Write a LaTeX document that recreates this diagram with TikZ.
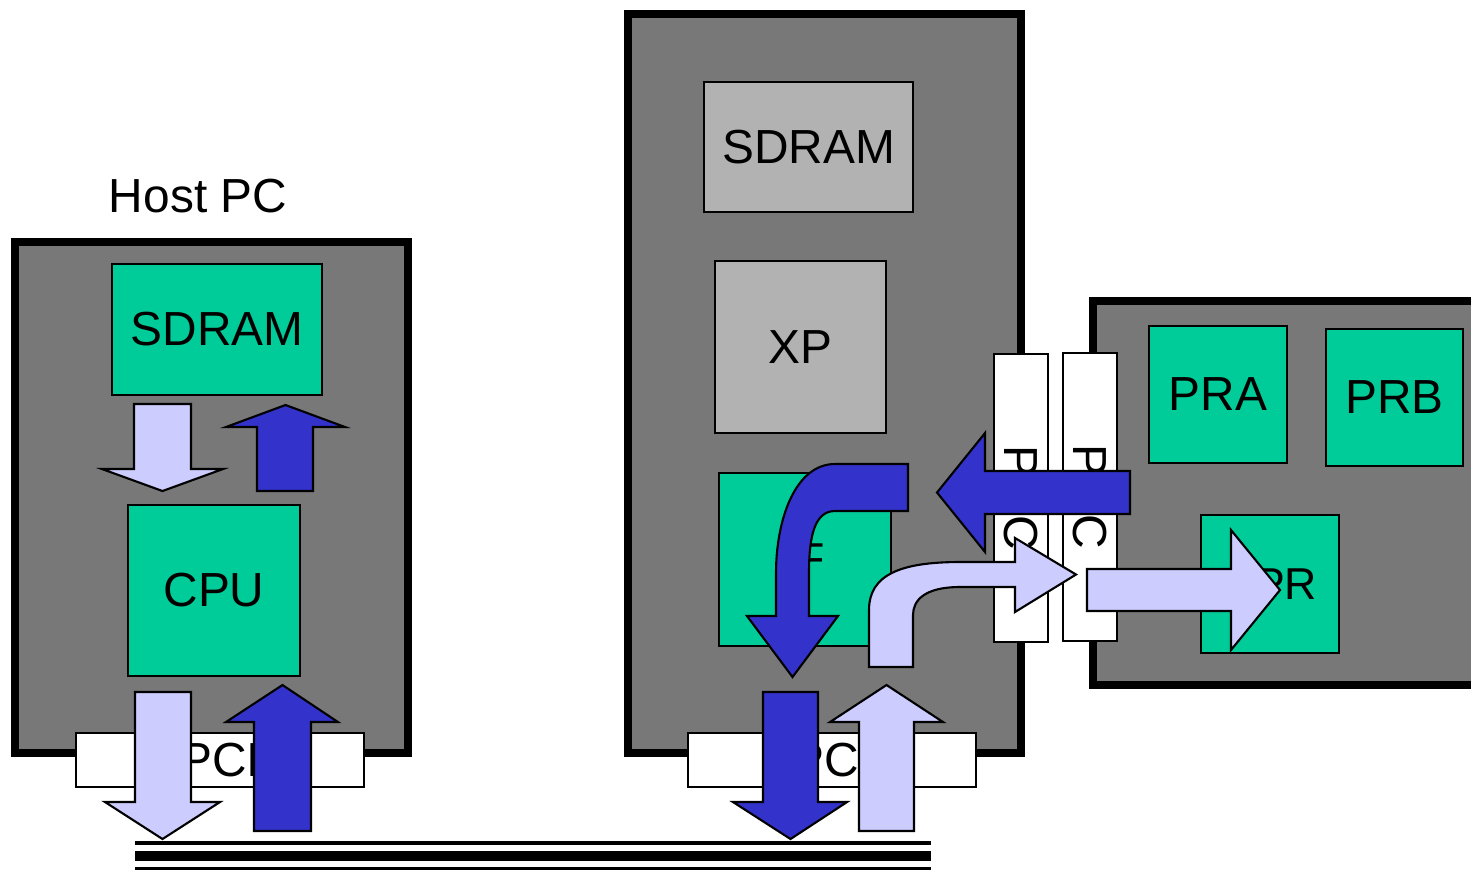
\documentclass[tikz,border=0pt]{standalone}
\usepackage{fontspec}
\setmainfont{Liberation Sans}
\definecolor{boardgray}{RGB}{120,120,120}
\definecolor{chipgreen}{RGB}{0,204,153}
\definecolor{memgray}{RGB}{178,178,178}
\definecolor{darkflow}{RGB}{51,51,204}
\definecolor{lightflow}{RGB}{204,204,255}
\begin{document}
\begin{tikzpicture}[x=0.01cm,y=-0.01cm,
  every node/.style={font=\fontsize{13.6pt}{16pt}\selectfont, inner sep=0pt},
  board/.style={fill=boardgray, draw=black, line width=2.3pt},
  chip/.style={fill=chipgreen, draw=black, line width=0.6pt},
  mem/.style={fill=memgray, draw=black, line width=0.6pt},
  slot/.style={fill=white, draw=black, line width=0.6pt},
  darkarr/.style={fill=darkflow, draw=black, line width=0.6pt},
  lightarr/.style={fill=lightflow, draw=black, line width=0.6pt},
  smalltext/.style={font=\fontsize{12.7pt}{14pt}\selectfont}]
  \useasboundingbox (0,0) rectangle (1471,869);
  \clip (0,0) rectangle (1471,869);

  \node[board, minimum width=3.92cm, minimum height=5.105cm] (host) at (211.5,497.25) {};
  \node (hostlbl) at (198,196) {Host PC};
  \node[chip, minimum width=2.10cm, minimum height=1.31cm] (hsdram) at (217,329.5) {SDRAM};
  \node[chip, minimum width=1.72cm, minimum height=1.71cm] (hcpu) at (214,590.5) {CPU};
  \draw[lightarr] (134,404) -- (191,404) -- (191,469) -- (223,469) -- (162.5,491) -- (102,469) -- (134,469) -- cycle;
  \draw[darkarr] (257,491) -- (313,491) -- (313,427) -- (345,427) -- (285.5,405) -- (226,427) -- (257,427) -- cycle;
  \node[slot, minimum width=2.88cm, minimum height=0.54cm] (hslot) at (220,760) {PCI};
  \draw[lightarr] (135,692) -- (191,692) -- (191,802) -- (220,802) -- (162.5,839) -- (105,802) -- (135,802) -- cycle;
  \draw[darkarr] (254,831) -- (311,831) -- (311,722) -- (338,722) -- (282.5,685) -- (226,722) -- (254,722) -- cycle;

  \node[board, minimum width=3.925cm, minimum height=7.385cm] (card) at (824.25,383.25) {};
  \node[mem, minimum width=2.09cm, minimum height=1.30cm] (csdram) at (808.5,147) {SDRAM};
  \node[mem, minimum width=1.71cm, minimum height=1.72cm] (cxp) at (800.5,347) {XP};
  \node[chip, smalltext, minimum width=1.72cm, minimum height=1.73cm] (cif) at (805,559.5) {IF};

  \node[board, minimum width=4.065cm, minimum height=3.84cm] (prcard) at (1296.75,493) {};
  \node[chip, minimum width=1.38cm, minimum height=1.37cm] (pra) at (1218,394.5) {PRA};
  \node[chip, minimum width=1.37cm, minimum height=1.37cm] (prb) at (1394.5,397.5) {PRB};
  \node[chip, smalltext, minimum width=1.38cm, minimum height=1.38cm] (dpr) at (1270,584) {DPR};

  \node[slot, rotate=-90, minimum width=2.88cm, minimum height=0.54cm] (vslota) at (1021,498) {P\hspace{0.38cm}C};
  \node[slot, rotate=-90, minimum width=2.88cm, minimum height=0.54cm] (vslotb) at (1090,497) {P\hspace{0.38cm}C};

  \draw[darkarr] (1130,471) -- (985,471) -- (985,433) -- (937,492.5) -- (985,552) -- (985,514) -- (1130,514) -- cycle;
  \draw[darkarr] (908,464) -- (835,464) .. controls (795,464) and (776,520) .. (776,573) -- (776,616) -- (747,616) -- (792.5,677) -- (838,616) -- (809,616) -- (809,573) .. controls (809,535) and (815,511) .. (835,511) -- (908,511) -- cycle;
  \draw[lightarr] (869,667) -- (869,610) .. controls (869,575) and (900,562) .. (960,562) -- (1015,562) -- (1015,538) -- (1076,574.5) -- (1015,612) -- (1015,587) -- (960,587) .. controls (925,587) and (913,600) .. (913,615) -- (913,667) -- cycle;
  \draw[lightarr] (1087,569) -- (1231,569) -- (1231,530) -- (1280,590) -- (1231,650) -- (1231,611) -- (1087,611) -- cycle;

  \node[slot, minimum width=2.88cm, minimum height=0.54cm] (cslot) at (832,760) {PCI};
  \draw[darkarr] (763,692) -- (818,692) -- (818,802) -- (847,802) -- (790.5,839) -- (733,802) -- (763,802) -- cycle;
  \draw[lightarr] (859,831) -- (914,831) -- (914,722) -- (943,722) -- (886.5,685) -- (830,722) -- (859,722) -- cycle;

  \draw[line width=0.045cm] (135,843) -- (931,843);
  \draw[line width=0.095cm] (135,856) -- (931,856);
  \draw[line width=0.05cm] (135,869) -- (931,869);
\end{tikzpicture}
\end{document}
